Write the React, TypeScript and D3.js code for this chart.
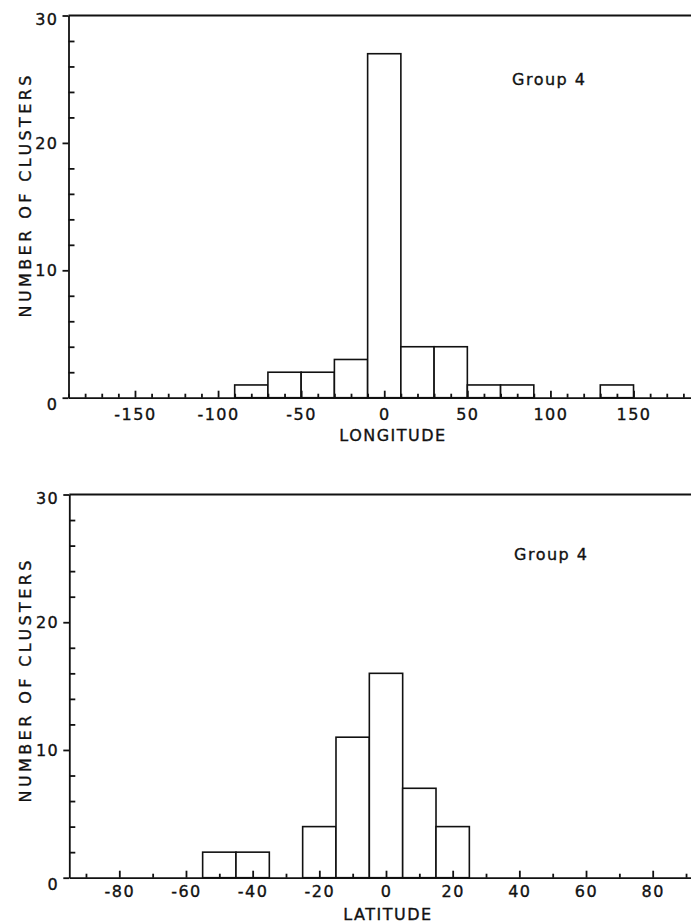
import React, {useEffect, useRef} from "react";
import * as d3 from "d3";

// longitude histogram (20 deg bins, left edges)
const lonBinStart = [-90, -70, -50, -30, -10, 10, 30, 50, 70, 130];
const lonCounts = [1, 2, 2, 3, 27, 4, 4, 1, 1, 1];
const lonBinWidth = 20;
const lonTicks = [-150, -100, -50, 0, 50, 100, 150];

// latitude histogram (10 deg bins, left edges)
const latBinStart = [-55, -45, -25, -15, -5, 5, 15];
const latCounts = [2, 2, 4, 11, 16, 7, 4];
const latBinWidth = 10;
const latTicks = [-80, -60, -40, -20, 0, 20, 40, 60, 80];

const countTicks = [0, 10, 20, 30];
const groupLabel = "Group 4";
const yTitle = "NUMBER OF CLUSTERS";

const FONT = "'DejaVu Sans', sans-serif";

const Histogram = props => {
  const refx = useRef(null);
  const refxMinor = useRef(null);
  const refy = useRef(null);
  const refyMinor = useRef(null);
  const refb = useRef(null);

  const {top, height, x0, x1, domain, starts, counts, binWidth, ticks, minorStep, title, tickPad} = props;

  useEffect(() => {
    const x = d3.scaleLinear().domain(domain).range([x0, x1]);
    const y = d3.scaleLinear().domain([0, 30]).range([height, 0]);

    const minorX = d3.range(Math.ceil(domain[0] / minorStep) * minorStep, domain[1] + 0.01, minorStep)
      .filter(v => !ticks.includes(v));
    const xMinor = d3.axisBottom(x).tickValues(minorX).tickSize(-4).tickFormat(() => "");
    const xMajor = d3.axisBottom(x).tickValues(ticks).tickSize(-7).tickSizeOuter(0).tickPadding(tickPad)
      .tickFormat(d => String(d));
    d3.select(refxMinor.current).call(xMinor).call(g => g.select(".domain").remove());
    d3.select(refx.current).call(xMajor);

    const yMinor = d3.axisLeft(y).tickValues(d3.range(2, 30, 2).filter(v => v % 10 !== 0)).tickSize(-6).tickFormat(() => "");
    const yMajor = d3.axisLeft(y).tickValues(countTicks).tickSize(6).tickSizeOuter(0).tickPadding(4);
    d3.select(refyMinor.current).call(yMinor).call(g => g.select(".domain").remove());
    d3.select(refy.current).call(yMajor);

    for (const r of [refx, refxMinor, refy, refyMinor]) {
      const g = d3.select(r.current);
      g.attr("font-family", FONT).attr("font-size", 16);
      g.selectAll("path,line").attr("stroke", "#111").attr("stroke-width", 1.8);
      g.selectAll("text").attr("fill", "#111").attr("letter-spacing", 1.5)
        .attr("stroke", "#111").attr("stroke-width", 0.35);
    }
    d3.select(refy.current).selectAll("text")
      .attr("dy", d => d === 0 ? "0.75em" : d === 30 ? "0.55em" : "0.32em");

    const bars = starts.map((s, i) => ({s, n: counts[i]}));
    d3.select(refb.current).selectAll("rect").data(bars).join("rect")
      .attr("x", d => x(d.s))
      .attr("width", d => x(d.s + binWidth) - x(d.s))
      .attr("y", d => y(d.n))
      .attr("height", d => y(0) - y(d.n))
      .attr("fill", "white")
      .attr("stroke", "#111")
      .attr("stroke-width", 1.6);
  }, [props]);

  const textStyle = {fontFamily: FONT, fontSize: 16, fill: "#111", stroke: "#111", strokeWidth: 0.35};

  return (
    <g transform={`translate(0,${top})`}>
      <line x1={x0} x2={x1} y1={0} y2={0} stroke="#111" strokeWidth={2}/>
      <g ref={refb}/>
      <g ref={refxMinor} transform={`translate(0,${height})`}/>
      <g ref={refx} transform={`translate(0,${height})`}/>
      <g ref={refyMinor} transform={`translate(${x0},0)`}/>
      <g ref={refy} transform={`translate(${x0},0)`}/>
      <text x={31} y={props.yTitleY} transform={`rotate(-90,31,${props.yTitleY})`} textAnchor="middle"
        style={textStyle} textLength={242} lengthAdjust="spacing">{yTitle}</text>
      <text x={props.groupX} y={props.groupY} style={textStyle} letterSpacing={1.5}>{groupLabel}</text>
      <text x={props.titleX} y={height + props.titleDy} textAnchor="middle" style={textStyle}
        letterSpacing={1.5}>{title}</text>
    </g>
  );
};

const App = () => (
  <svg width={691} height={923} style={{position: "absolute", left: 0, top: 0, background: "white"}}>
    <Histogram top={15.5} height={382.2} x0={68.5} x1={700} domain={[-190, 190]}
      starts={lonBinStart} counts={lonCounts} binWidth={lonBinWidth} ticks={lonTicks} minorStep={10}
      title="LONGITUDE" titleX={393} titleDy={43} tickPad={11} groupX={512} groupY={69}
      yTitleY={181}/>
    <Histogram top={494.5} height={383.2} x0={69.3} x1={702.7} domain={[-95, 95]}
      starts={latBinStart} counts={latCounts} binWidth={latBinWidth} ticks={latTicks} minorStep={10}
      title="LATITUDE" titleX={388} titleDy={42} tickPad={8} groupX={514} groupY={65}
      yTitleY={187}/>
  </svg>
);

export default App;
